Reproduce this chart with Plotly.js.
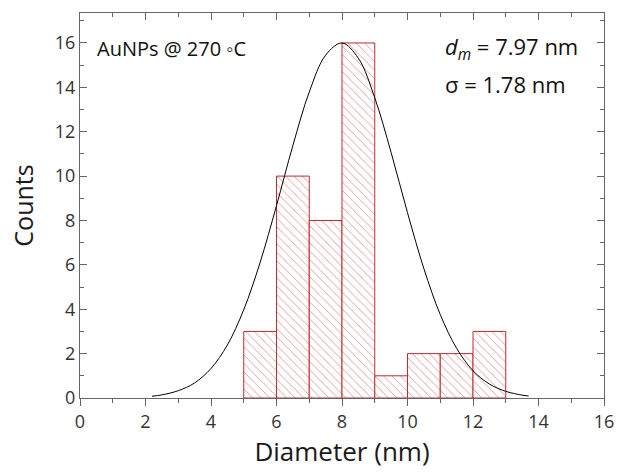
<!DOCTYPE html>
<html>
<head>
<meta charset="utf-8">
<script src="https://cdn.plot.ly/plotly-3.0.1.min.js"></script>
<style>html,body{margin:0;padding:0;background:#fff;}#chart{width:617px;height:474px;}</style>
</head>
<body>
<div id="chart"></div>
<script>
// Histogram bins (nm) and counts
const binCenters = [5.5, 6.5, 7.5, 8.5, 9.5, 10.5, 11.5, 12.5];
const counts = [3, 10, 8, 16, 1, 2, 2, 3];
// Fitted curve
const fitX = [2.2, 2.5, 3, 3.5, 4, 4.5, 5, 5.5, 6, 6.5, 7, 7.5, 8, 8.5, 9, 9.5, 10, 10.5, 11, 11.5, 12, 12.5, 13, 13.5, 13.7];
const fitY = [0.08, 0.14, 0.33, 0.68, 1.33, 2.39, 3.98, 6.11, 8.67, 11.38, 13.79, 15.45, 16.0, 15.31, 13.53, 11.06, 8.35, 5.83, 3.76, 2.24, 1.23, 0.63, 0.30, 0.13, 0.09];
const xTicks = [0, 2, 4, 6, 8, 10, 12, 14, 16];
const yTicks = [0, 2, 4, 6, 8, 10, 12, 14, 16];
const labelSample = "AuNPs @ 270 \u25E6C";
const labelMean = "<i>d</i><sub><i>m</i></sub> = 7.97 nm";
const labelSigma = "\u03C3 = 1.78 nm";

const font = "Open Sans, Noto Sans, sans-serif";
const red = "#c42a2e";
const axisCol = "#666";

const traces = [
  {
    type: "bar", x: binCenters, y: counts, width: 1,
    marker: {color: "#ffffff", line: {color: red, width: 1},
      pattern: {shape: "\\", fgcolor: "#dd7c7c", bgcolor: "#ffffff", size: 6, solidity: 0.12}},
    hoverinfo: "skip", showlegend: false
  },
  {
    type: "scatter", mode: "lines", x: fitX, y: fitY,
    line: {color: "#000000", width: 1, shape: "spline"}, showlegend: false
  },
  { type: "scatter", x: [0], y: [0], xaxis: "x2", yaxis: "y2", mode: "markers", marker: {opacity: 0}, showlegend: false, hoverinfo: "skip" }
];

const layout = {
  width: 617, height: 474,
  margin: {l: 80, r: 13, t: 13, b: 76},
  paper_bgcolor: "#ffffff", plot_bgcolor: "#ffffff",
  font: {family: font, size: 18, color: "#222"},
  showlegend: false,
  bargap: 0,
  xaxis: {
    range: [0, 16], tickvals: xTicks, ticktext: xTicks.map(String),
    ticks: "outside", ticklen: 7, tickcolor: axisCol, tickwidth: 1,
    minor: {dtick: 1, ticks: "outside", ticklen: 4, tickcolor: axisCol},
    showline: true, linecolor: axisCol, linewidth: 1, zeroline: false, showgrid: false,
    tickfont: {size: 18, color: "#333"},
    title: {text: "Diameter (nm)", font: {size: 26, color: "#1a1a1a"}, standoff: 6}
  },
  yaxis: {
    range: [0, 17.35], tickvals: yTicks, ticktext: yTicks.map(String),
    ticks: "inside", ticklen: 7, tickcolor: axisCol, tickwidth: 1,
    minor: {dtick: 1, ticks: "inside", ticklen: 4, tickcolor: axisCol},
    showline: true, linecolor: axisCol, linewidth: 1, zeroline: false, showgrid: false,
    tickfont: {size: 18, color: "#333"},
    title: {text: "Counts", font: {size: 25, color: "#1a1a1a"}, standoff: 14}
  },
  xaxis2: {
    overlaying: "x", side: "top", matches: "x", range: [0, 16],
    tickvals: xTicks, ticks: "inside", ticklen: 7, tickcolor: axisCol, showticklabels: false,
    minor: {dtick: 1, ticks: "inside", ticklen: 4, tickcolor: axisCol},
    showline: true, linecolor: axisCol, linewidth: 1, zeroline: false, showgrid: false
  },
  yaxis2: {
    overlaying: "y", side: "right", range: [0, 17.35],
    tickvals: yTicks, ticks: "inside", ticklen: 7, tickcolor: axisCol, showticklabels: false,
    minor: {dtick: 1, ticks: "inside", ticklen: 4, tickcolor: axisCol},
    showline: true, linecolor: axisCol, linewidth: 1, zeroline: false, showgrid: false
  },
  annotations: [
    {xref: "paper", yref: "paper", x: 0.028, y: 0.909, xanchor: "left", yanchor: "middle", showarrow: false,
     text: labelSample, font: {size: 20, color: "#111"}},
    {xref: "paper", yref: "paper", x: 0.693, y: 0.909, xanchor: "left", yanchor: "middle", showarrow: false,
     text: labelMean, font: {size: 22, color: "#111"}},
    {xref: "paper", yref: "paper", x: 0.693, y: 0.816, xanchor: "left", yanchor: "middle", showarrow: false,
     text: labelSigma, font: {size: 22, color: "#111"}}
  ]
};

Plotly.newPlot("chart", traces, layout, {displayModeBar: false, staticPlot: true});
</script>
</body>
</html>
